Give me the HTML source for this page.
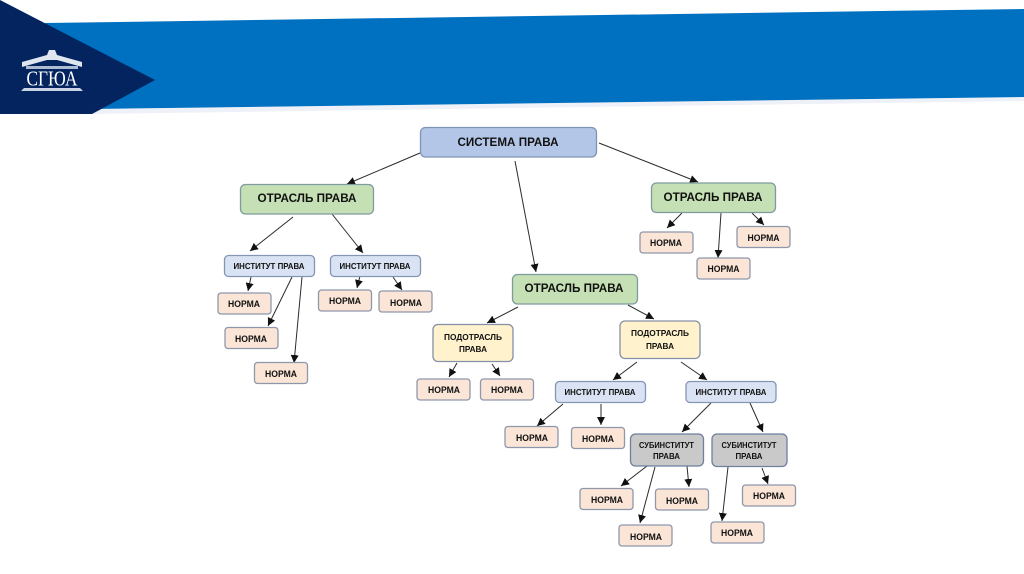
<!DOCTYPE html>
<html><head><meta charset="utf-8"><style>
html,body{margin:0;padding:0;background:#fff}
svg{display:block}
text{font-family:"Liberation Sans",sans-serif;font-weight:bold;fill:#111;text-anchor:middle}
.a{stroke:#2b2b2b;stroke-width:1;fill:none;marker-end:url(#m)}
.b{fill:#b4c6e7;stroke:#7f93b5}
.g{fill:#c5e0b4;stroke:#7f9ba0}
.i{fill:#dae3f3;stroke:#8496b5}
.n{fill:#fbe5d6;stroke:#8f97ad}
.y{fill:#fff2cc;stroke:#8490a8}
.s{fill:#c9c9c9;stroke:#6f7f9f}
rect{stroke-width:1.3}
</style></head><body>
<svg width="1024" height="574" viewBox="0 0 1024 574" xmlns="http://www.w3.org/2000/svg">
<defs><marker id="m" markerUnits="userSpaceOnUse" markerWidth="9" markerHeight="9" refX="8" refY="4" orient="auto"><path d="M0 0L8 4L0 8z" fill="#111"/></marker></defs>
<rect width="1024" height="574" fill="#fff" style="stroke:none"/>
<polygon points="90,109 1024,97 1024,101 90,114" fill="#eef1f7"/>
<polygon points="45,23 1024,9 1024,97 92,109" fill="#0070c0"/>
<polygon points="0,0 155,80 92,114 0,114" fill="#03245f"/>
<g fill="#fff">
<polygon points="22,62 47,55 49,50 55,50 57,55 82,62 82,67 57,60 47,60 22,67" fill="#dfe6f0"/>
<rect x="26" y="66" width="52" height="3" fill="#aebcd3" style="stroke:none"/>
<polygon points="24,88 80,88 83,91 21,91" fill="#c9d3e4"/>
</g>
<text x="52" y="85.500" font-size="21" textLength="51" lengthAdjust="spacingAndGlyphs" style="font-family:'Liberation Serif',serif;font-weight:normal;fill:#fff">СГЮА</text>

<g>
<line class="a" x1="420" y1="153" x2="347" y2="184"/>
<line class="a" x1="293" y1="217" x2="250" y2="251"/>
<line class="a" x1="332" y1="214" x2="363" y2="253"/>
<line class="a" x1="515" y1="161" x2="536" y2="272"/>
<line class="a" x1="599" y1="143" x2="698" y2="182"/>
<line class="a" x1="682" y1="213" x2="667" y2="228"/>
<line class="a" x1="721" y1="213" x2="718" y2="258"/>
<line class="a" x1="752" y1="213" x2="764" y2="225"/>
<line class="a" x1="251" y1="277" x2="248" y2="291"/>
<line class="a" x1="292" y1="277" x2="268" y2="326"/>
<line class="a" x1="302" y1="277" x2="294" y2="363"/>
<line class="a" x1="360" y1="276" x2="357" y2="288"/>
<line class="a" x1="393" y1="277" x2="402" y2="290"/>
<line class="a" x1="518" y1="307" x2="487" y2="323"/>
<line class="a" x1="628" y1="305" x2="654" y2="319"/>
<line class="a" x1="457" y1="363" x2="449" y2="377"/>
<line class="a" x1="492" y1="364" x2="500" y2="376"/>
<line class="a" x1="637" y1="362" x2="613" y2="380"/>
<line class="a" x1="681" y1="362" x2="707" y2="380"/>
<line class="a" x1="563" y1="404" x2="537" y2="426"/>
<line class="a" x1="601" y1="404" x2="601" y2="425"/>
<line class="a" x1="711" y1="403" x2="682" y2="432"/>
<line class="a" x1="750" y1="403" x2="763" y2="432"/>
<line class="a" x1="647" y1="466" x2="621" y2="486"/>
<line class="a" x1="655" y1="467" x2="640" y2="523"/>
<line class="a" x1="687" y1="466" x2="689" y2="487"/>
<line class="a" x1="728" y1="467" x2="722" y2="521"/>
<line class="a" x1="762" y1="468" x2="768" y2="484"/>
</g>

<rect class="b" x="420.500" y="127.500" width="176" height="29.500" rx="5"/>
<text x="508" y="146" font-size="12" textLength="101" lengthAdjust="spacingAndGlyphs">СИСТЕМА ПРАВА</text>

<rect class="g" x="240.500" y="184.500" width="133" height="29.500" rx="5"/>
<text x="307" y="202" font-size="12" textLength="99" lengthAdjust="spacingAndGlyphs">ОТРАСЛЬ ПРАВА</text>
<rect class="g" x="651.500" y="183" width="124" height="29.500" rx="5"/>
<text x="713" y="201" font-size="12" textLength="99" lengthAdjust="spacingAndGlyphs">ОТРАСЛЬ ПРАВА</text>
<rect class="g" x="512.500" y="274.500" width="125" height="29.500" rx="5"/>
<text x="574" y="292" font-size="12" textLength="99" lengthAdjust="spacingAndGlyphs">ОТРАСЛЬ ПРАВА</text>

<rect class="i" x="224.500" y="255.500" width="90" height="21" rx="4"/>
<text x="269" y="269" font-size="8.5" textLength="71" lengthAdjust="spacingAndGlyphs">ИНСТИТУТ ПРАВА</text>
<rect class="i" x="330.500" y="255.500" width="90" height="21" rx="4"/>
<text x="375" y="269" font-size="8.5" textLength="71" lengthAdjust="spacingAndGlyphs">ИНСТИТУТ ПРАВА</text>
<rect class="i" x="555.500" y="381.500" width="90" height="21" rx="4"/>
<text x="600" y="395" font-size="8.5" textLength="71" lengthAdjust="spacingAndGlyphs">ИНСТИТУТ ПРАВА</text>
<rect class="i" x="686" y="381.500" width="90" height="21" rx="4"/>
<text x="731" y="395" font-size="8.5" textLength="71" lengthAdjust="spacingAndGlyphs">ИНСТИТУТ ПРАВА</text>

<rect class="y" x="433" y="324.500" width="80" height="37" rx="5"/>
<text x="473" y="340" font-size="8.5" textLength="58" lengthAdjust="spacingAndGlyphs">ПОДОТРАСЛЬ</text>
<text x="473" y="352" font-size="8.5" textLength="28" lengthAdjust="spacingAndGlyphs">ПРАВА</text>
<rect class="y" x="620" y="321" width="80" height="37.500" rx="5"/>
<text x="660" y="336" font-size="8.5" textLength="58" lengthAdjust="spacingAndGlyphs">ПОДОТРАСЛЬ</text>
<text x="660" y="349" font-size="8.5" textLength="28" lengthAdjust="spacingAndGlyphs">ПРАВА</text>

<rect class="s" x="630.500" y="434" width="73" height="32" rx="5"/>
<text x="666.500" y="448" font-size="8.5" textLength="55" lengthAdjust="spacingAndGlyphs">СУБИНСТИТУТ</text>
<text x="666.500" y="459" font-size="8.5" textLength="27" lengthAdjust="spacingAndGlyphs">ПРАВА</text>
<rect class="s" x="712" y="434" width="75" height="32.500" rx="5"/>
<text x="749" y="448" font-size="8.5" textLength="55" lengthAdjust="spacingAndGlyphs">СУБИНСТИТУТ</text>
<text x="749" y="459" font-size="8.5" textLength="27" lengthAdjust="spacingAndGlyphs">ПРАВА</text>

<rect class="n" x="640" y="232" width="53" height="21" rx="3"/><text x="666" y="246" font-size="9" textLength="32" lengthAdjust="spacingAndGlyphs">НОРМА</text>
<rect class="n" x="737" y="226.500" width="53" height="21" rx="3"/><text x="763.500" y="241" font-size="9" textLength="32" lengthAdjust="spacingAndGlyphs">НОРМА</text>
<rect class="n" x="697" y="258" width="53" height="21" rx="3"/><text x="723.500" y="272" font-size="9" textLength="32" lengthAdjust="spacingAndGlyphs">НОРМА</text>
<rect class="n" x="218" y="293" width="53" height="21" rx="3"/><text x="244" y="307" font-size="9" textLength="32" lengthAdjust="spacingAndGlyphs">НОРМА</text>
<rect class="n" x="225" y="327.500" width="53" height="21" rx="3"/><text x="251" y="342" font-size="9" textLength="32" lengthAdjust="spacingAndGlyphs">НОРМА</text>
<rect class="n" x="254.500" y="362.500" width="53" height="21" rx="3"/><text x="281" y="377" font-size="9" textLength="32" lengthAdjust="spacingAndGlyphs">НОРМА</text>
<rect class="n" x="318.500" y="290" width="53" height="21" rx="3"/><text x="345" y="304" font-size="9" textLength="32" lengthAdjust="spacingAndGlyphs">НОРМА</text>
<rect class="n" x="379" y="291" width="53" height="21" rx="3"/><text x="406" y="306" font-size="9" textLength="32" lengthAdjust="spacingAndGlyphs">НОРМА</text>
<rect class="n" x="417" y="379" width="53" height="21" rx="3"/><text x="444" y="393" font-size="9" textLength="32" lengthAdjust="spacingAndGlyphs">НОРМА</text>
<rect class="n" x="480.500" y="379" width="53" height="21" rx="3"/><text x="507" y="393" font-size="9" textLength="32" lengthAdjust="spacingAndGlyphs">НОРМА</text>
<rect class="n" x="505" y="426.500" width="53" height="21" rx="3"/><text x="532" y="441" font-size="9" textLength="32" lengthAdjust="spacingAndGlyphs">НОРМА</text>
<rect class="n" x="571.500" y="427.500" width="53" height="21" rx="3"/><text x="598" y="442" font-size="9" textLength="32" lengthAdjust="spacingAndGlyphs">НОРМА</text>
<rect class="n" x="580" y="488.500" width="53" height="21" rx="3"/><text x="607" y="503" font-size="9" textLength="32" lengthAdjust="spacingAndGlyphs">НОРМА</text>
<rect class="n" x="655.500" y="489" width="53" height="21" rx="3"/><text x="682" y="504" font-size="9" textLength="32" lengthAdjust="spacingAndGlyphs">НОРМА</text>
<rect class="n" x="619" y="525" width="53" height="21" rx="3"/><text x="646" y="540" font-size="9" textLength="32" lengthAdjust="spacingAndGlyphs">НОРМА</text>
<rect class="n" x="711" y="522" width="53" height="21" rx="3"/><text x="737" y="536" font-size="9" textLength="32" lengthAdjust="spacingAndGlyphs">НОРМА</text>
<rect class="n" x="742.500" y="485" width="53" height="21" rx="3"/><text x="769" y="499" font-size="9" textLength="32" lengthAdjust="spacingAndGlyphs">НОРМА</text>
</svg>
</body></html>
